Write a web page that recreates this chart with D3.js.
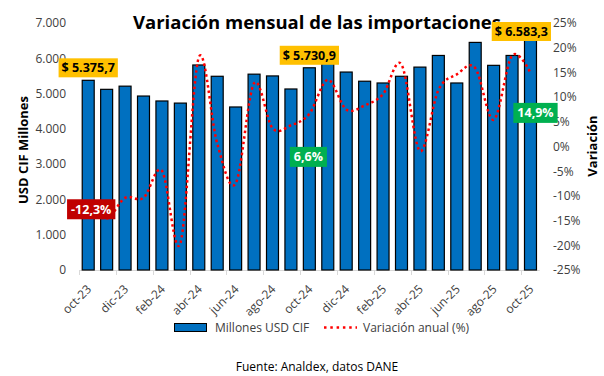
<!DOCTYPE html>
<html>
<head>
<meta charset="utf-8">
<script src="https://cdn.jsdelivr.net/npm/d3@7"></script>
<style>
  body { margin: 0; background: #fff; }
  svg { display: block; font-family: "Open Sans", sans-serif; }
</style>
</head>
<body>
<div id="chart"></div>
<script>
const width = 604, height = 376;

// datos
const months = ["oct-23","nov-23","dic-23","ene-24","feb-24","mar-24","abr-24","may-24","jun-24","jul-24","ago-24","sep-24",
                "oct-24","nov-24","dic-24","ene-25","feb-25","mar-25","abr-25","may-25","jun-25","jul-25","ago-25","sep-25","oct-25"];
const imports = [5375.7, 5120, 5210, 4930, 4790, 4730, 5810, 5490, 4620, 5550, 5500, 5130,
                 5730.9, 6150, 5610, 5350, 5300, 5490, 5750, 6080, 5300, 6450, 5800, 6080, 6583.3];
const variation = [-12.3, -14.6, -10.4, -10.4, -4.9, -19.6, 18.0, 0.6, -7.5, 12.8, 3.7, 4.3,
                   6.6, 13.5, 7.5, 8.3, 10.6, 16.6, -0.9, 11.4, 14.6, 15.9, 5.4, 18.4, 14.9];
const leftTicks = [0, 1000, 2000, 3000, 4000, 5000, 6000, 7000];
const rightTicks = [-25, -20, -15, -10, -5, 0, 5, 10, 15, 20, 25];
const labeledMonths = ["oct-23", "oct-24", "oct-25"];

const loc = d3.formatLocale({decimal: ",", thousands: ".", grouping: [3], currency: ["$ ", ""], minus: "-"});
const fmtThousands = loc.format(",.0f");
const fmtMoney = loc.format("$,.1f");
const fmtPct = loc.format(".1f");

let svg = d3.select("#chart").append("svg")
  .attr("width", width).attr("height", height);
svg.append("rect").attr("width", width).attr("height", height).attr("fill", "#fff");

let x = d3.scaleBand().domain(months).range([79, 539.7]).paddingInner(0.35).paddingOuter(0.175);
let yL = d3.scaleLinear().domain([0, 7000]).range([270, 23]);
let yR = d3.scaleLinear().domain([-25, 25]).range([270, 23]);

// title
svg.append("text")
  .attr("x", 317).attr("y", 29)
  .attr("text-anchor", "middle")
  .attr("font-size", 18.5).attr("font-weight", "bold").attr("fill", "#000")
  .text("Variación mensual de las importaciones");

// left axis
let axL = svg.append("g").attr("transform", "translate(70,0)")
  .call(d3.axisLeft(yL).tickValues(leftTicks).tickSize(0).tickPadding(4).tickFormat(fmtThousands));
axL.select(".domain").remove();
axL.selectAll("text").attr("font-size", 12).attr("fill", "#404040").attr("font-family", "Open Sans");

// right axis
let axR = svg.append("g").attr("transform", "translate(549,0)")
  .call(d3.axisRight(yR).tickValues(rightTicks).tickSize(0).tickPadding(4).tickFormat((d) => loc.format("d")(d) + "%"));
axR.select(".domain").remove();
axR.selectAll("text").attr("font-size", 12).attr("fill", "#404040").attr("font-family", "Open Sans");

// axis titles
svg.append("text")
  .attr("transform", "translate(28,150) rotate(-90)")
  .attr("text-anchor", "middle")
  .attr("font-size", 13).attr("font-weight", "bold").attr("fill", "#000")
  .text("USD CIF Millones");
svg.append("text")
  .attr("transform", "translate(597,146) rotate(-90)")
  .attr("text-anchor", "middle")
  .attr("font-size", 13).attr("font-weight", "bold").attr("fill", "#000")
  .text("Variación");

// x axis
const step = x.step();
svg.append("line")
  .attr("x1", x.range()[0]).attr("x2", x.range()[1])
  .attr("y1", yL(0) + 0.5).attr("y2", yL(0) + 0.5)
  .attr("stroke", "#d9d9d9");
let shown = months.filter((d, i) => i % 2 === 0);
svg.selectAll(".xtick")
  .data(shown)
  .enter()
  .append("line")
  .attr("class", "xtick")
  .attr("x1", (d) => Math.round(x(d) - step * x.paddingInner() / 2) + 0.5)
  .attr("x2", (d) => Math.round(x(d) - step * x.paddingInner() / 2) + 0.5)
  .attr("y1", yL(0)).attr("y2", yL(0) + 5)
  .attr("stroke", "#d9d9d9");
svg.selectAll(".xlab")
  .data(shown)
  .enter()
  .append("text")
  .attr("class", "xlab")
  .attr("transform", (d) => `translate(${x(d) + x.bandwidth() / 2 + 1},${yL(0) + 17}) rotate(-45)`)
  .attr("text-anchor", "end")
  .attr("dy", "0.35em")
  .attr("font-size", 12).attr("fill", "#404040")
  .text((d) => d);

// bars
const data = months.map((m, i) => ({month: m, value: imports[i], pct: variation[i]}));
svg.selectAll(".bar")
  .data(data)
  .enter()
  .append("rect")
  .attr("class", "bar")
  .attr("x", (d) => x(d.month))
  .attr("y", (d) => yL(d.value))
  .attr("width", x.bandwidth())
  .attr("height", (d) => yL(0) - yL(d.value))
  .attr("fill", "#0070c0")
  .attr("stroke", "#000")
  .attr("stroke-width", 1.2);

// variation line
let line = d3.line()
  .x((d) => x(d.month) + x.bandwidth() / 2)
  .y((d) => yR(d.pct))
  .curve(d3.curveCardinal.tension(0));
svg.append("path")
  .datum(data)
  .attr("d", line)
  .attr("fill", "none")
  .attr("stroke", "#ff0000")
  .attr("stroke-width", 2.5)
  .attr("stroke-dasharray", "2.5 3");

// value labels (yellow) on bars
const labelData = data.filter((d) => labeledMonths.includes(d.month));
labelData.forEach((d) => {
  let g = svg.append("g");
  let t = g.append("text")
    .attr("font-size", 12.5).attr("font-weight", "bold").attr("fill", "#000")
    .attr("text-anchor", "middle").attr("dy", "0.35em")
    .text(fmtMoney(d.value));
  let w = t.node().getComputedTextLength() + 6, h = 19;
  let cx = x(d.month) + x.bandwidth() / 2;
  let bottom = yL(d.value) - 3;
  let left = Math.min(cx - w / 2, 551 - w);
  let top = Math.max(bottom - h, 22);
  g.insert("rect", "text")
    .attr("x", left).attr("y", top).attr("width", w).attr("height", h)
    .attr("fill", "#ffc000");
  t.attr("x", left + w / 2).attr("y", top + h / 2);
});

// percentage labels
const pctColor = (v) => v < 0 ? "#c00000" : "#00b050";
const pctOffset = [[3, 2], [-1, 43], [5, 40]];
labelData.forEach((d, i) => {
  let g = svg.append("g");
  let t = g.append("text")
    .attr("font-size", 12.5).attr("font-weight", "bold").attr("fill", "#fff")
    .attr("text-anchor", "middle").attr("dy", "0.35em")
    .text(fmtPct(d.pct) + "%");
  let w = t.node().getComputedTextLength() + 8, h = 20;
  let cx = x(d.month) + x.bandwidth() / 2 + pctOffset[i][0];
  let cy = yR(d.pct) + pctOffset[i][1];
  g.insert("rect", "text")
    .attr("x", cx - w / 2).attr("y", cy - h / 2).attr("width", w).attr("height", h)
    .attr("fill", pctColor(d.pct));
  t.attr("x", cx).attr("y", cy);
});

// legend
let leg = svg.append("g");
leg.append("rect")
  .attr("x", 174.5).attr("y", 323.5).attr("width", 32).attr("height", 8)
  .attr("fill", "#0070c0").attr("stroke", "#000");
leg.append("text")
  .attr("x", 215).attr("y", 327.5).attr("dy", "0.35em")
  .attr("font-size", 12).attr("fill", "#404040")
  .text("Millones USD CIF");
leg.append("line")
  .attr("x1", 324).attr("x2", 357).attr("y1", 327.5).attr("y2", 327.5)
  .attr("stroke", "#ff0000").attr("stroke-width", 2.5).attr("stroke-dasharray", "2.5 3.8");
leg.append("text")
  .attr("x", 363).attr("y", 327.5).attr("dy", "0.35em")
  .attr("font-size", 12).attr("fill", "#404040")
  .text("Variación anual (%)");

// source
svg.append("text")
  .attr("x", 317).attr("y", 367).attr("dy", "0.35em")
  .attr("text-anchor", "middle")
  .attr("font-size", 12).attr("fill", "#000")
  .text("Fuente: Analdex, datos DANE");
</script>
</body>
</html>
